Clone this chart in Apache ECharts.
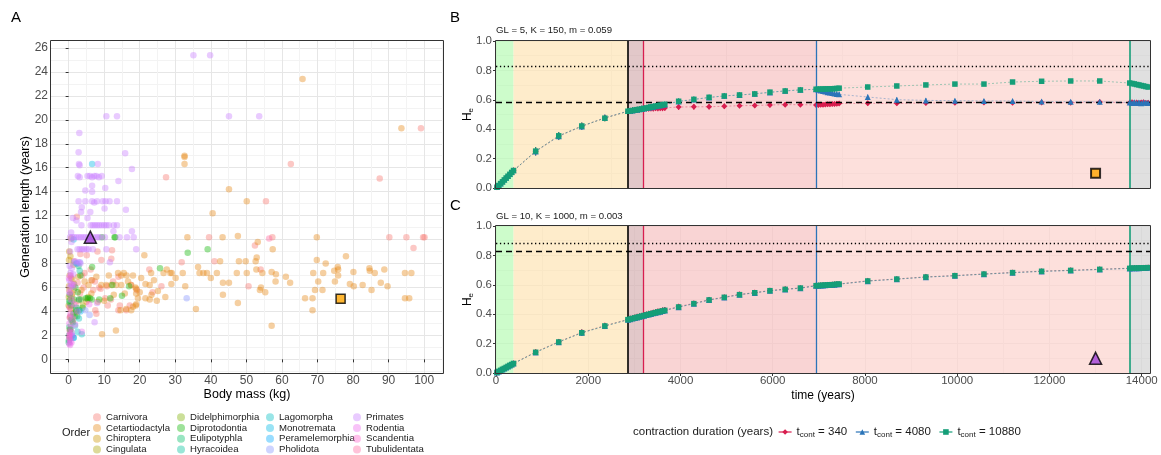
<!DOCTYPE html>
<html><head><meta charset="utf-8">
<script src="https://cdn.jsdelivr.net/npm/echarts@6/dist/echarts.min.js"></script>
<style>html,body{margin:0;padding:0;background:#fff}#c{width:1161px;height:455px}</style>
</head><body><div id="c"></div>
<script>
// ---------------- Panel A data ----------------
const orderNames = ['Carnivora','Cetartiodactyla','Chiroptera','Cingulata','Didelphimorphia','Diprotodontia','Eulipotyphla','Hyracoidea','Lagomorpha','Monotremata','Peramelemorphia','Pholidota','Primates','Rodentia','Scandentia','Tubulidentata'];
const orderColors = ['#F8766D','#E68613','#CD9600','#ABA300','#7CAE00','#0CB702','#00BE67','#00C19A','#00BFC4','#00B8E7','#00A9FF','#8494FF','#C77CFF','#ED68ED','#FF61CC','#FF68A1'];
const carnivora = [[27.4,15.2],[62.5,16.3],[87.5,15.1],[99.1,19.3],[55.5,13.2],[39.5,10.2],[57.3,10.2],[90.2,10.2],[95.0,10.2],[99.7,10.2],[100.1,10.2],[97.0,9.3],[52.4,9.5],[31.8,8.1],[41.0,8.2],[22.7,7.5],[54.0,7.5],[50.6,6.1],[26.1,6.1],[12.2,9.1],[9.2,8.3],[12.0,8.4],[8.1,9.0],[5.1,8.7],[14.0,4.1],[16.2,4.1],[11.0,4.5],[2.3,11.9],[6.6,6.6],[8.6,6.0],[10.3,5.1],[12.5,6.5],[14.0,6.9],[4.5,7.2],[2.5,6.4],[1.5,5.8],[1.0,4.9],[3.2,5.5],[5.5,5.0],[7.5,4.1],[0.5,3.6],[2.0,4.5],[9.0,5.9],[17.5,6.2],[19.2,5.8],[23.6,5.6],[7.8,3.8],[1.5,8.2],[0.7,6.8],[3.8,7.0],[6.2,7.5],[7.4,6.5],[14.4,4.5],[17.2,4.5],[0.3,4.4],[1.2,3.9],[10.8,6.1],[4.2,6.0],[2.8,4.9],[0.9,5.3],[6.9,5.8],[11.9,5.0],[3.3,8.8]];
const cetartiodactyla = [[32.6,17.0],[32.6,16.9],[32.6,16.3],[65.8,23.4],[93.6,19.3],[45.1,14.2],[50.1,13.2],[40.5,12.2],[33.4,10.2],[43.3,10.2],[47.6,10.3],[69.8,10.2],[53.2,9.8],[57.4,9.2],[21.3,8.7],[78.0,8.6],[69.8,8.3],[72.3,8.0],[52.9,8.5],[52.6,8.2],[42.6,8.2],[47.9,8.2],[49.8,8.2],[36.4,7.7],[27.6,7.5],[75.7,7.7],[75.8,7.5],[74.7,7.4],[84.6,7.6],[84.7,7.4],[88.8,7.5],[52.8,7.5],[47.3,7.2],[50.1,7.2],[36.8,7.2],[37.9,7.2],[38.9,7.2],[41.7,7.2],[32.1,7.2],[29.0,7.2],[26.7,7.2],[28.6,7.2],[68.8,7.2],[71.6,7.2],[75.8,7.0],[80.1,7.3],[86.1,7.2],[94.6,7.2],[96.4,7.2],[57.1,7.3],[58.3,7.1],[61.1,6.9],[40.0,6.8],[30.1,6.8],[70.2,6.5],[74.9,6.5],[58.2,6.5],[62.3,6.4],[43.4,6.4],[45.1,6.4],[28.9,6.3],[79.1,6.3],[87.8,6.4],[32.8,6.1],[80.2,6.1],[82.7,6.2],[89.7,6.1],[69.3,5.8],[71.4,5.8],[53.8,5.8],[55.3,5.6],[43.4,5.4],[85.2,5.8],[66.5,5.1],[68.6,5.1],[94.6,5.1],[95.8,5.1],[68.6,4.1],[47.6,4.7],[35.8,4.2],[57.1,2.8],[27.2,5.2],[24.8,4.9],[22.8,5.0],[25.1,5.7],[21.6,6.3],[22.8,6.2],[21.6,5.1],[23.2,7.2],[9.4,2.1],[13.3,2.4],[16.2,4.2],[18.9,4.5],[18.1,4.4],[17.6,4.1],[14.6,4.1],[19.5,5.1],[19.0,4.6],[13.9,7.2],[14.8,7.0],[16.3,7.0],[18.1,7.0],[20.4,6.8],[9.2,6.2],[10.6,6.2],[12.0,6.2],[13.4,6.2],[14.8,6.2],[17.6,6.2],[19.0,5.9],[20.0,5.6],[19.0,5.5],[16.7,6.5],[4.5,6.5],[6.4,6.6],[7.8,6.9],[3.6,5.8],[6.4,5.5],[8.2,4.8],[5.0,4.8],[54.5,7.2],[54.1,6.0],[15.5,7.2],[18.8,6.0],[11.3,7.0],[24.0,6.6],[23.3,5.4],[15.8,5.5],[10.0,4.9],[12.7,5.4],[2.7,6.9],[5.6,6.2]];
const chiroptera = [[0.02,4.5],[0.05,5.2],[0.1,6.1],[0.3,7.0],[0.6,4.2],[0.2,5.8],[1.0,5.5],[0.4,3.5],[0.1,8.3],[1.3,7.9],[0.7,10.1],[1.0,6.7],[0.15,9.0],[0.5,8.6]];
const cingulata = [[2.9,5.0],[4.0,4.5],[5.5,5.2],[1.5,6.3]];
const didelphimorphia = [[0.3,2.5],[1.0,3.2],[2.2,4.0],[0.5,1.8],[3.5,5.0],[1.8,3.6]];
const diprotodontia = [[33.5,8.9],[39.1,9.2],[25.7,7.6],[15.0,5.3],[17.0,6.1],[13.1,10.2],[9.4,10.2],[12.9,10.2],[6.6,7.7],[3.3,7.0],[5.3,5.1],[4.8,5.1],[6.0,5.1],[8.6,5.0],[11.7,5.1],[12.3,6.2],[2.1,4.1],[3.0,4.1],[0.8,4.5],[1.5,5.0],[0.3,5.4],[1.2,3.1],[2.6,5.6],[0.5,2.5],[3.9,4.3],[6.5,5.0],[1.9,6.0],[0.2,4.9],[2.4,3.6]];
const eulipotyphla = [[0.05,1.6],[0.1,2.0],[0.02,1.4],[0.5,2.3],[1.4,3.8],[0.3,4.7],[0.8,3.3],[0.2,2.7],[2.8,7.8]];
const hyracoidea = [[3.0,5.0],[2.2,4.3],[3.1,7.4]];
const lagomorpha = [[3.7,2.1],[1.4,1.8],[2.5,2.3],[1.8,2.8],[2.9,3.4]];
const monotremata = [[6.6,16.3],[1.4,10.0]];
const peramelemorphia = [[1.4,1.8],[1.0,2.0],[2.2,8.0],[3.3,4.0]];
const pholidota = [[33.2,5.1],[1.5,8.1],[2.4,8.0],[3.2,8.1],[4.7,4.1],[5.9,3.7]];
const primates = [[35.1,25.4],[39.8,25.4],[10.6,20.3],[13.6,20.3],[45.1,20.3],[53.6,20.3],[3.0,18.9],[2.8,17.3],[15.9,17.2],[2.9,16.3],[3.1,16.2],[8.2,16.3],[17.8,15.9],[2.6,15.3],[3.1,15.2],[5.3,15.3],[6.0,15.3],[6.6,15.2],[7.2,15.3],[7.8,15.3],[8.5,15.2],[9.3,15.3],[14.0,14.9],[6.6,14.5],[10.3,14.3],[4.7,14.1],[6.6,14.0],[2.8,13.2],[4.7,13.2],[6.6,13.2],[7.2,13.1],[8.0,13.2],[9.6,13.2],[10.4,13.2],[11.5,13.2],[13.6,13.2],[3.7,12.7],[10.1,12.6],[3.5,12.3],[6.1,12.3],[16.1,12.5],[1.2,11.8],[2.2,11.6],[5.3,11.8],[3.6,11.2],[6.2,11.2],[6.8,11.2],[7.4,11.2],[8.0,11.2],[8.6,11.2],[9.3,11.2],[10.0,11.2],[10.6,11.2],[11.3,11.2],[12.7,11.2],[13.6,11.2],[0.7,10.6],[12.6,10.7],[17.8,10.7],[0.4,10.2],[1.0,10.2],[1.6,10.2],[2.2,10.2],[2.9,10.2],[3.5,10.2],[4.1,10.2],[4.7,10.2],[5.4,10.2],[7.0,10.2],[7.7,10.2],[8.3,10.2],[8.9,10.2],[10.2,10.2],[14.3,10.2],[16.4,10.2],[18.3,10.2],[0.8,9.8],[2.5,9.2],[3.1,9.2],[3.7,9.2],[4.3,9.2],[5.0,9.2],[5.6,9.2],[6.8,9.2],[10.6,9.2],[19.0,9.2],[0.4,9.0],[1.8,8.2],[2.8,8.1],[3.3,8.0],[0.3,7.8],[0.9,7.6],[0.5,7.2],[1.3,7.1],[0.2,6.6],[0.6,6.3],[0.3,6.0],[0.9,6.1],[1.6,6.2],[0.4,5.5],[8.0,4.7],[7.3,3.1],[11.6,8.1]];
const rodentia = [[0.2,1.3],[0.5,1.5],[0.3,1.7],[0.8,1.4],[1.0,1.9],[0.4,2.1],[0.6,2.6],[0.2,3.0],[1.2,3.4],[0.5,3.8],[0.3,4.3],[1.5,4.6],[0.7,5.0],[0.2,5.6],[1.1,6.3],[3.7,2.3],[0.4,1.2],[0.9,2.2],[1.8,2.9],[0.3,3.5],[2.5,4.0],[5.8,4.6],[0.6,7.0],[0.1,6.8]];
const scandentia = [[0.2,2.0],[0.3,2.3],[0.2,1.8]];
const tubulidentata = [[56.4,10.1]];
const highlightTriangleA = [[6.1,10.2]];
const highlightSquareA = [[76.5,5.05]];
const xTicksA = [0,10,20,30,40,50,60,70,80,90,100];
const xMinorA = [5,15,25,35,45,55,65,75,85,95,105];
const yTicksA = [0,2,4,6,8,10,12,14,16,18,20,22,24,26];
const yMinorA = [-1,1,3,5,7,9,11,13,15,17,19,21,23,25];

// ---------------- Panels B & C data ----------------
const timeYears = [20,60,100,140,180,220,260,300,340,380, 860,1360,1860,2360,
  2860,2910,2960,3010,3060,3110,3160,3210,3260,3310,3360,3410,3460,3510,3560,3610,3660,
  3960,4290,4620,4950,5280,5610,5940,6270,6600,
  6940,6990,7040,7090,7140,7190,7240,7290,7340,7390,7440,
  8060,8690,9320,9950,10580,11200,11830,12460,13090,
  13740,13790,13840,13890,13940,13990,14040,14090,14140];
const heB340 = [0.005,0.018,0.030,0.043,0.056,0.068,0.081,0.094,0.107,0.120, 0.250,0.354,0.421,0.476,
  0.522,0.525,0.528,0.530,0.533,0.535,0.538,0.540,0.541,0.540,0.542,0.541,0.543,0.542,0.544,0.543,0.545,
  0.551,0.552,0.553,0.556,0.560,0.561,0.565,0.567,0.567,
  0.565,0.565,0.566,0.567,0.568,0.569,0.570,0.571,0.572,0.573,0.575,
  0.576,0.576,0.578,0.580,0.582,0.580,0.581,0.580,0.585,
  0.580,0.583,0.578,0.582,0.577,0.581,0.584,0.578,0.580];
const heB4080 = [0.006,0.019,0.031,0.044,0.057,0.069,0.082,0.095,0.108,0.121, 0.248,0.352,0.419,0.478,
  0.523,0.526,0.528,0.531,0.533,0.536,0.539,0.541,0.544,0.547,0.550,0.553,0.556,0.559,0.562,0.565,0.568,
  0.588,0.602,0.615,0.627,0.632,0.641,0.650,0.661,0.668,
  0.671,0.668,0.664,0.660,0.656,0.652,0.649,0.646,0.643,0.640,0.637,
  0.619,0.601,0.596,0.594,0.592,0.592,0.588,0.587,0.587,
  0.582,0.578,0.583,0.579,0.581,0.577,0.582,0.580,0.579];
const heB10880 = [0.005,0.017,0.030,0.042,0.055,0.068,0.080,0.093,0.106,0.119, 0.251,0.355,0.422,0.475,
  0.522,0.525,0.527,0.530,0.533,0.535,0.538,0.541,0.544,0.548,0.551,0.554,0.557,0.560,0.563,0.566,0.569,
  0.590,0.603,0.617,0.626,0.633,0.640,0.652,0.660,0.667,
  0.672,0.672,0.673,0.673,0.674,0.674,0.675,0.675,0.676,0.677,0.679,
  0.687,0.694,0.701,0.707,0.707,0.721,0.726,0.728,0.728,
  0.714,0.711,0.708,0.704,0.701,0.697,0.694,0.690,0.687];
const errB = [0.006,0.008,0.009,0.010,0.011,0.012,0.012,0.013,0.013,0.014, 0.028,0.026,0.024,0.022,
  0.020,0.019,0.021,0.020,0.019,0.020,0.021,0.020,0.019,0.020,0.021,0.020,0.019,0.020,0.021,0.020,0.019,
  0.020,0.019,0.018,0.018,0.017,0.017,0.016,0.016,0.016,
  0.015,0.016,0.015,0.014,0.015,0.016,0.015,0.014,0.015,0.016,0.015,
  0.016,0.015,0.015,0.014,0.014,0.014,0.013,0.013,0.013,
  0.015,0.016,0.015,0.014,0.015,0.016,0.015,0.014,0.015];
const heC340 = [0.004,0.011,0.019,0.025,0.032,0.038,0.046,0.052,0.059,0.066, 0.143,0.213,0.276,0.322,
  0.364,0.369,0.372,0.377,0.381,0.385,0.389,0.394,0.398,0.402,0.405,0.410,0.413,0.418,0.420,0.425,0.428,
  0.452,0.474,0.499,0.516,0.535,0.547,0.561,0.571,0.579,
  0.595,0.596,0.597,0.598,0.599,0.600,0.601,0.602,0.603,0.605,0.606,
  0.627,0.640,0.654,0.663,0.674,0.684,0.693,0.699,0.706,
  0.713,0.713,0.714,0.714,0.715,0.715,0.716,0.716,0.717];
const heC4080 = [0.004,0.010,0.018,0.024,0.031,0.037,0.045,0.051,0.058,0.064, 0.140,0.210,0.273,0.319,
  0.362,0.366,0.370,0.374,0.378,0.382,0.386,0.390,0.394,0.398,0.402,0.406,0.410,0.414,0.417,0.421,0.425,
  0.448,0.471,0.496,0.514,0.532,0.545,0.559,0.568,0.577,
  0.593,0.594,0.595,0.596,0.597,0.598,0.599,0.600,0.601,0.603,0.604,
  0.625,0.638,0.652,0.661,0.672,0.682,0.691,0.697,0.704,
  0.711,0.712,0.712,0.713,0.713,0.714,0.714,0.715,0.716];
const heC10880 = [0.004,0.011,0.018,0.025,0.031,0.038,0.045,0.052,0.058,0.065, 0.141,0.211,0.274,0.320,
  0.363,0.367,0.371,0.375,0.379,0.383,0.387,0.391,0.395,0.399,0.403,0.407,0.411,0.415,0.418,0.422,0.426,
  0.449,0.472,0.497,0.515,0.533,0.546,0.560,0.569,0.578,
  0.594,0.595,0.596,0.597,0.598,0.599,0.600,0.601,0.602,0.604,0.605,
  0.626,0.639,0.653,0.662,0.673,0.683,0.692,0.698,0.705,
  0.712,0.713,0.713,0.714,0.714,0.715,0.715,0.716,0.717];
const errC = [0.003,0.004,0.005,0.006,0.006,0.007,0.007,0.008,0.008,0.009, 0.016,0.018,0.021,0.020,
  0.020,0.021,0.019,0.020,0.022,0.020,0.019,0.021,0.020,0.022,0.019,0.020,0.021,0.020,0.019,0.021,0.020,
  0.016,0.015,0.015,0.014,0.014,0.013,0.013,0.013,0.012,
  0.012,0.011,0.012,0.011,0.012,0.011,0.012,0.011,0.012,0.011,0.012,
  0.012,0.011,0.011,0.011,0.010,0.010,0.010,0.010,0.010,
  0.009,0.009,0.009,0.009,0.009,0.009,0.009,0.009,0.009];
const phaseBounds = [0, 380, 2860, 3200, 6940, 13740, 14180];
const contractionEnds = [3200, 6940, 13740];
const contractionStart = 2860;
const refLinesB = [0.832, 0.58];   // dotted, dashed
const refLinesC = [0.882, 0.832];
const markerB = [[13000, 0.1]];
const markerC = [[13000, 0.1]];
const xTicksC = [0,2000,4000,6000,8000,10000,12000,14000];
const xMinorC = [1000,3000,5000,7000,9000,11000,13000];
const xTicksB = [0,5000,10000];
const xMinorB = [2500,7500,12500];
const seriesNames = ['tcont = 340','tcont = 4080','tcont = 10880'];

// ---------------- build ----------------
const FONT = "'Liberation Sans', Arial, Helvetica, sans-serif";
const serCol = ['#D81E4F','#2B74B8','#159E78'];
const serSym = ['diamond','triangle','rect'];
const serSize = [6,6,5.5];
const lineCol = ['#D81E4F','#2B74B8','#159E78'];
const shadeCols = ['#bcfbba','#fee6ba','#d8b6b7','#f7c6c6','#fcd6d0','#d6d6d6'];

const chart = echarts.init(document.getElementById('c'), null, {renderer:'canvas'});
const orderPoints = [carnivora,cetartiodactyla,chiroptera,cingulata,didelphimorphia,diprotodontia,eulipotyphla,hyracoidea,lagomorpha,monotremata,peramelemorphia,pholidota,primates,rodentia,scandentia,tubulidentata];

const gA = {left:51, top:41, width:392, height:332};
const gB = {left:496, top:41, width:654, height:147};
const gC = {left:496, top:226, width:654, height:147};

const tickLbl = {color:'#4d4d4d', fontSize:12, fontFamily:FONT};
function mkAxis(extra){ return Object.assign({type:'value', axisLine:{show:false}, axisTick:{show:false}, axisLabel:{show:false}, splitLine:{show:false}, nameMoveOverlap:false}, extra); }

const xAxes = [
  mkAxis({gridIndex:0, min:-4.96, max:105.3,
    axisTick:{show:true, length:3, lineStyle:{color:'#333'}, customValues:xTicksA},
    axisLabel:{show:true, customValues:xTicksA, margin:2, formatter:v=>String(v), ...tickLbl},
    splitLine:{show:true, lineStyle:{color:'#e6e6e6', width:1}},
    name:'Body mass (kg)', nameLocation:'middle', nameGap:15, nameTextStyle:{color:'#000', fontSize:12.5, fontFamily:FONT, verticalAlign:'top'}}),
  mkAxis({gridIndex:0, min:-4.96, max:105.3, axisTick:{show:false, customValues:xMinorA}, splitLine:{show:true, lineStyle:{color:'#f3f3f3', width:1}}}),
  mkAxis({gridIndex:1, min:0, max:14180, axisTick:{show:false, customValues:xTicksB}, splitLine:{show:true, lineStyle:{color:'#e4e4e4', width:1}}}),
  mkAxis({gridIndex:1, min:0, max:14180, axisTick:{show:false, customValues:xMinorB}, splitLine:{show:true, lineStyle:{color:'#ececec', width:1}}}),
  mkAxis({gridIndex:2, min:0, max:14180,
    axisTick:{show:true, length:3, lineStyle:{color:'#333'}, customValues:xTicksC},
    axisLabel:{show:true, customValues:xTicksC, margin:2, formatter:v=>String(v), ...tickLbl, fontSize:11.5},
    splitLine:{show:true, lineStyle:{color:'#e4e4e4', width:1}},
    name:'time (years)', nameLocation:'middle', nameGap:16.5, nameTextStyle:{color:'#000', fontSize:12, fontFamily:FONT, verticalAlign:'top'}}),
  mkAxis({gridIndex:2, min:0, max:14180, axisTick:{show:false, customValues:xMinorC}, splitLine:{show:true, lineStyle:{color:'#ececec', width:1}}})
];
const heName = {name:'{h|H}{e|e}', nameLocation:'middle', nameGap:21,
  nameTextStyle:{color:'#000', fontFamily:FONT, rich:{h:{fontSize:12, fontFamily:FONT, color:'#000'}, e:{fontSize:8, fontFamily:FONT, color:'#000', padding:[6,0,0,0]}}}};
function yHe(gi){
  return mkAxis(Object.assign({gridIndex:gi, min:0, max:1, interval:0.2,
    axisTick:{show:true, length:3, lineStyle:{color:'#333'}},
    axisLabel:{show:true, margin:4, formatter:v=>v.toFixed(1), ...tickLbl, fontSize:11.5},
    splitLine:{show:true, lineStyle:{color:'#e4e4e4', width:1}},
    minorTick:{show:false, splitNumber:2},
    minorSplitLine:{show:true, lineStyle:{color:'#ececec', width:1}}}, heName));
}
const yAxes = [
  mkAxis({gridIndex:0, min:-1.14, max:26.58,
    axisTick:{show:true, length:3, lineStyle:{color:'#333'}, customValues:yTicksA},
    axisLabel:{show:true, customValues:yTicksA, margin:3, formatter:v=>String(v), ...tickLbl},
    splitLine:{show:true, lineStyle:{color:'#e6e6e6', width:1}},
    name:'Generation length (years)', nameLocation:'middle', nameGap:19, nameTextStyle:{color:'#000', fontSize:12.5, fontFamily:FONT}}),
  mkAxis({gridIndex:0, min:-1.14, max:26.58, axisTick:{show:false, customValues:yMinorA}, splitLine:{show:true, lineStyle:{color:'#f3f3f3', width:1}}}),
  yHe(1),
  yHe(2)
];

const series = [];
orderNames.forEach((n,i)=>{
  series.push({type:'scatter', name:n, xAxisIndex:0, yAxisIndex:0, data:orderPoints[i], symbol:'circle', symbolSize:6.5,
    itemStyle:{color:orderColors[i], opacity:0.4}, z:2, silent:true});
});
series.push({type:'scatter', name:'_triA', xAxisIndex:0, yAxisIndex:0, data:highlightTriangleA, symbol:'triangle', symbolSize:12,
  itemStyle:{color:'#A040D8', borderColor:'#000', borderWidth:1.5}, z:5, silent:true});
series.push({type:'scatter', name:'_sqA', xAxisIndex:0, yAxisIndex:0, data:highlightSquareA, symbol:'rect', symbolSize:9,
  itemStyle:{color:'#FFA500', borderColor:'#000', borderWidth:1.5}, z:5, silent:true});

function panel(xi, yi, heArr, err, refs, marker, markerSym, markerColor, markerSize){
  const shade = [];
  for (let i=0;i<phaseBounds.length-1;i++){
    shade.push([{xAxis:phaseBounds[i], itemStyle:{color:shadeCols[i]}},{xAxis:phaseBounds[i+1]}]);
  }
  series.push({type:'line', name:'_shade'+xi, xAxisIndex:xi, yAxisIndex:yi, data:[], z:1, silent:true,
    markArea:{silent:true, itemStyle:{opacity:0.75}, data:shade}});
  const vl = [{xAxis:contractionStart, lineStyle:{color:'#000', width:1.6, type:'solid'}}];
  contractionEnds.forEach((t,k)=>vl.push({xAxis:t, lineStyle:{color:lineCol[k], width:k===2?2:1.3, type:'solid', opacity:k===2?0.8:1}}));
  vl.push({yAxis:refs[0], lineStyle:{color:'#000', width:1.3, type:[1.3,2.6]}});
  vl.push({yAxis:refs[1], lineStyle:{color:'#000', width:1.3, type:[6,4]}});
  series.push({type:'line', name:'_ref'+xi, xAxisIndex:xi, yAxisIndex:yi, data:[], z:2, silent:true,
    markLine:{silent:true, symbol:['none','none'], label:{show:false}, animation:false, data:vl}});
  heArr.forEach((he,k)=>{
    series.push({type:'custom', name:'_err'+xi+'_'+k, xAxisIndex:xi, yAxisIndex:yi, z:3, silent:true,
      data: timeYears.map((t,i)=>[t, he[i]-err[i], he[i]+err[i]]),
      encode:{x:0, y:[1,2]},
      renderItem:function(params, api){
        const p1 = api.coord([api.value(0), api.value(1)]);
        const p2 = api.coord([api.value(0), api.value(2)]);
        return {type:'line', shape:{x1:p1[0], y1:p1[1], x2:p2[0], y2:p2[1]}, style:{stroke:serCol[k], lineWidth:1}};
      }});
  });
  heArr.forEach((he,k)=>{
    series.push({type:'line', name:seriesNames[k], xAxisIndex:xi, yAxisIndex:yi, z:4+k, silent:true,
      data: timeYears.map((t,i)=>[t, he[i]]),
      symbol:serSym[k], symbolSize:serSize[k], showSymbol:true,
      itemStyle:{color:serCol[k]},
      lineStyle:{color:serCol[k], width:1, type:[2,2], opacity:0.4}});
  });
  series.push({type:'scatter', name:'_mk'+xi, xAxisIndex:xi, yAxisIndex:yi, data:marker, symbol:markerSym, symbolSize:markerSize,
    itemStyle:{color:markerColor, borderColor:'#000', borderWidth:markerSym==='rect'?2:1.5}, z:10, silent:true});
}
panel(2, 2, [heB340, heB4080, heB10880], errB, refLinesB, markerB, 'rect', '#FFA500', 9);
panel(4, 3, [heC340, heC4080, heC10880], errC, refLinesC, markerC, 'triangle', '#A040D8', 12);

const legendCols = [[0,4],[4,8],[8,12],[12,16]];
const legendLefts = [93, 177, 266, 353];
const legends = legendCols.map((r,i)=>({
  orient:'vertical', left:legendLefts[i], top:412, itemWidth:8, itemHeight:8, itemGap:0, icon:'circle',
  selectedMode:false, padding:0,
  itemStyle:{opacity:0.4},
  textStyle:{fontSize:9.6, lineHeight:10.7, color:'#1a1a1a', fontFamily:FONT},
  data: orderNames.slice(r[0], r[1])
}));
legends.push({
  orient:'horizontal', left:778, top:426, itemWidth:13, itemHeight:7, itemGap:8, selectedMode:false, padding:0,
  data: seriesNames,
  lineStyle:{type:'solid', opacity:1, width:1.2},
  formatter: function(name){ const v = name.split('= ')[1]; return '{t|t}{s|cont}{t| = ' + v + '}'; },
  textStyle:{fontFamily:FONT, color:'#1a1a1a', rich:{
    t:{fontSize:11.5, fontFamily:FONT, color:'#1a1a1a'},
    s:{fontSize:8, fontFamily:FONT, color:'#1a1a1a', padding:[6,0,0,0]}}}
});

const titleStyle = {fontSize:15, fontWeight:'normal', color:'#000', fontFamily:FONT};
const subStyle = {fontSize:9.6, fontWeight:'normal', color:'#1a1a1a', fontFamily:FONT};
const option = {
  animation:false,
  backgroundColor:'#fff',
  textStyle:{fontFamily:FONT},
  title:[
    {text:'A', left:11, top:10, padding:0, textStyle:titleStyle},
    {text:'B', left:450, top:10, padding:0, textStyle:titleStyle},
    {text:'C', left:450, top:198, padding:0, textStyle:titleStyle},
    {text:'GL = 5, K = 150, m = 0.059', left:496, top:25, padding:0, textStyle:subStyle},
    {text:'GL = 10, K = 1000, m = 0.003', left:496, top:211, padding:0, textStyle:subStyle},
    {text:'Order', left:62, top:427, padding:0, textStyle:{fontSize:11, fontWeight:'normal', color:'#1a1a1a', fontFamily:FONT}},
    {text:'contraction duration (years)', left:633, top:426, padding:0, textStyle:{fontSize:11.5, fontWeight:'normal', color:'#1a1a1a', fontFamily:FONT}}
  ],
  grid:[gA, gB, gC],
  xAxis:xAxes,
  yAxis:yAxes,
  legend:legends,
  series:series,
  graphic:[gA,gB,gC].map(g=>({type:'rect', z:100, silent:true,
    shape:{x:g.left-0.5, y:g.top-0.5, width:g.width+1, height:g.height+1},
    style:{fill:null, stroke:'#333', lineWidth:1}}))
};
chart.setOption(option);
</script></body></html>
